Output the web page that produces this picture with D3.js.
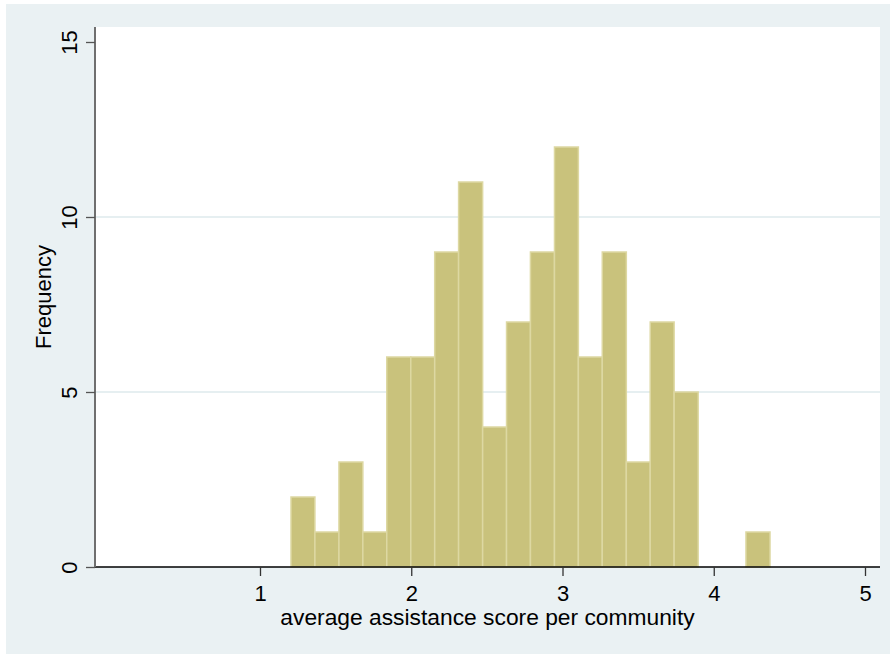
<!DOCTYPE html>
<html>
<head>
<meta charset="utf-8">
<script src="https://cdn.jsdelivr.net/npm/d3@7/dist/d3.min.js"></script>
<style>
  html, body { margin: 0; padding: 0; background: #ffffff; }
  svg { display: block; font-family: "Liberation Sans", Arial, sans-serif; }
</style>
</head>
<body>
<svg id="chart" width="890" height="654"></svg>
<script>
// Histogram bins: edges (lower/upper bounds) and counts per bin
const binEdges = [1.205, 1.363, 1.522, 1.680, 1.838, 1.997, 2.155, 2.313, 2.472, 2.630,
                  2.788, 2.947, 3.105, 3.263, 3.422, 3.580, 3.738, 3.897, 4.055, 4.213, 4.372];
const counts   = [2, 1, 3, 1, 6, 6, 9, 11, 4, 7, 9, 12, 6, 9, 3, 7, 5, 0, 0, 1];
const xTicks = [1, 2, 3, 4, 5];
const yTicks = [0, 5, 10, 15];
const gridValues = [5, 10];
const xTitle = "average assistance score per community";
const yTitle = "Frequency";

const bins = counts.map((c, i) => ({ x0: binEdges[i], x1: binEdges[i + 1], n: c }));

const svg = d3.select("#chart");
const W = 890, H = 654;

// outer graph region
svg.append("rect").attr("x", 6).attr("y", 4).attr("width", W - 6).attr("height", H - 4)
  .attr("fill", "#eaf1f3");

const plot = { left: 95, right: 880, top: 27, bottom: 567 };
svg.append("rect")
  .attr("x", plot.left).attr("y", plot.top)
  .attr("width", plot.right - plot.left).attr("height", plot.bottom - plot.top)
  .attr("fill", "#ffffff");

const x = d3.scaleLinear().domain([1, 5]).range([260, 865]);
const y = d3.scaleLinear().domain([0, 15]).range([567, 42]);

// horizontal grid lines
svg.append("g").selectAll("line")
  .data(gridValues)
  .join("line")
  .attr("x1", plot.left).attr("x2", plot.right)
  .attr("y1", d => y(d)).attr("y2", d => y(d))
  .attr("stroke", "#e6eff1").attr("stroke-width", 2);

// bars
svg.append("g").selectAll("rect")
  .data(bins.filter(b => b.n > 0))
  .join("rect")
  .attr("x", d => x(d.x0))
  .attr("y", d => y(d.n))
  .attr("width", d => x(d.x1) - x(d.x0))
  .attr("height", d => y(0) - y(d.n))
  .attr("fill", "#c9c27c")
  .attr("stroke", "#ddd8a2")
  .attr("stroke-width", 1.5);

// x axis
const xAxis = d3.axisBottom(x).tickValues(xTicks).tickSize(9).tickPadding(8).tickSizeOuter(0)
  .tickFormat(d3.format("d"));
const gx = svg.append("g").attr("transform", `translate(0,${plot.bottom})`).call(xAxis);
gx.select(".domain").attr("d", `M${plot.left},0H${plot.right}`).attr("stroke", "#000").attr("stroke-width", 1.6);
gx.selectAll(".tick line").attr("stroke", "#333").attr("stroke-width", 1.3);
gx.selectAll(".tick text").attr("font-size", 22).attr("fill", "#000")
  .attr("font-family", "Liberation Sans, Arial, sans-serif")
  .attr("dy", null).attr("y", 34);

// y axis
const yAxis = d3.axisLeft(y).tickValues(yTicks).tickSize(9).tickSizeOuter(0).tickFormat(d3.format("d"));
const gy = svg.append("g").attr("transform", `translate(${plot.left},0)`).call(yAxis);
gy.select(".domain").attr("d", `M0,${plot.top}V${plot.bottom}`).attr("stroke", "#6f6f6f").attr("stroke-width", 2);
gy.selectAll(".tick line").attr("stroke", "#555").attr("stroke-width", 1.3);
gy.selectAll(".tick text")
  .attr("font-size", 22).attr("fill", "#000")
  .attr("font-family", "Liberation Sans, Arial, sans-serif")
  .attr("x", null).attr("dy", null)
  .attr("text-anchor", "middle")
  .attr("transform", "translate(-18,0) rotate(-90)");

// axis titles
svg.append("text")
  .attr("x", (plot.left + plot.right) / 2).attr("y", 625)
  .attr("text-anchor", "middle").attr("font-size", 22.8).attr("fill", "#000")
  .text(xTitle);

svg.append("text")
  .attr("transform", `translate(51,297) rotate(-90)`)
  .attr("text-anchor", "middle").attr("font-size", 22).attr("fill", "#000")
  .text(yTitle);
</script>
</body>
</html>
